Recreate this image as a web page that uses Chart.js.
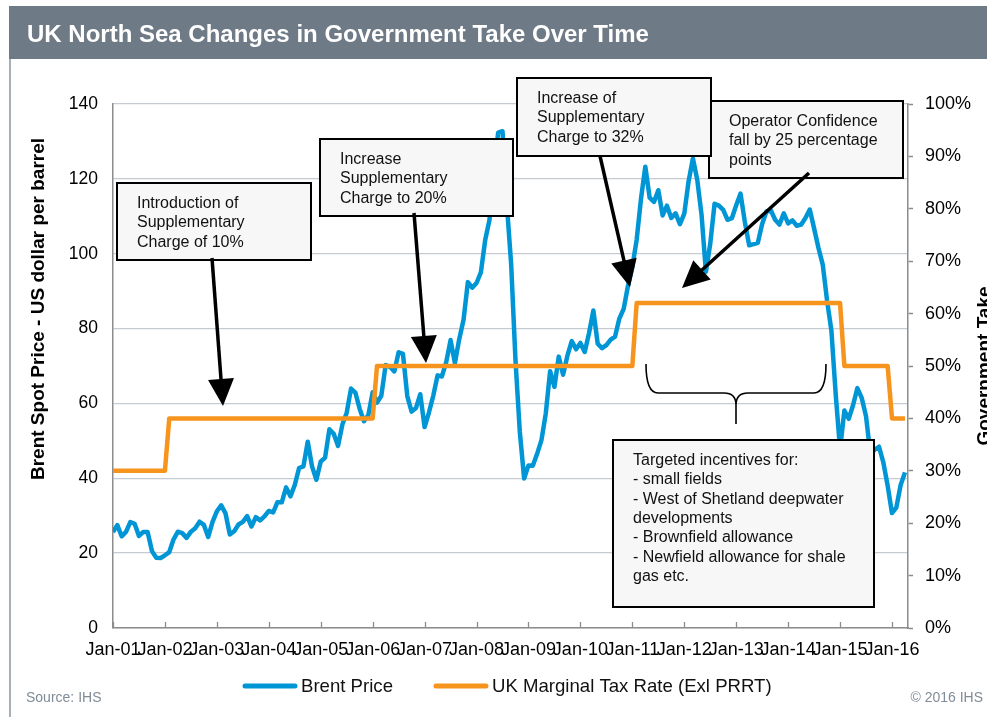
<!DOCTYPE html>
<html>
<head>
<meta charset="utf-8">
<script src="https://cdn.jsdelivr.net/npm/chart.js@4.4.0/dist/chart.umd.min.js"></script>
<style>
  html, body { margin: 0; padding: 0; background: #fff; overflow: hidden; }
  canvas { display: block; }
</style>
</head>
<body>
<canvas id="takeChart" width="987" height="717"></canvas>
<script>
// ==================== 数据 ====================
// Brent monthly average, Jan-01 .. Apr-16 (index = month since Jan-01)
const brentPrice = [
  25.62, 27.50, 24.50, 25.66, 28.31, 27.85, 24.61, 25.68, 25.62, 20.54, 18.80, 18.71,
  19.42, 20.28, 23.70, 25.73, 25.35, 24.08, 25.74, 26.65, 28.40, 27.54, 24.34, 28.33,
  31.18, 32.77, 30.61, 25.00, 25.86, 27.65, 28.35, 29.89, 27.11, 29.61, 28.75, 29.81,
  31.28, 30.86, 33.63, 33.59, 37.57, 35.18, 38.22, 42.74, 43.20, 49.78, 43.11, 39.60,
  44.51, 45.48, 53.10, 51.88, 48.65, 54.35, 57.52, 63.98, 62.91, 58.54, 55.24, 56.86,
  62.99, 60.21, 62.06, 70.26, 69.78, 68.56, 73.67, 73.23, 61.96, 57.81, 58.76, 62.47,
  53.68, 57.56, 62.05, 67.49, 67.21, 71.05, 76.93, 70.76, 77.17, 82.34, 92.41, 90.93,
  92.18, 94.99, 103.64, 109.07, 122.80, 132.32, 132.72, 113.24, 97.23, 71.58, 52.45, 39.95,
  43.44, 43.32, 46.54, 50.18, 57.30, 68.61, 64.44, 72.51, 67.65, 72.77, 76.66, 74.46,
  76.17, 73.75, 78.83, 84.82, 75.95, 74.76, 75.58, 77.04, 77.84, 82.67, 85.28, 91.45,
  96.52, 103.72, 114.64, 123.26, 114.99, 113.83, 116.97, 110.22, 112.83, 109.55, 110.77, 107.87,
  110.69, 119.33, 125.45, 119.75, 110.34, 95.16, 102.62, 113.36, 112.86, 111.71, 109.06, 109.49,
  112.96, 116.05, 108.47, 102.25, 102.56, 102.92, 107.93, 111.28, 111.60, 109.08, 107.79, 110.76,
  108.12, 108.90, 107.48, 107.76, 109.54, 111.80, 106.77, 101.61, 97.09, 87.43, 79.44, 62.34,
  47.76, 58.10, 55.89, 59.52, 64.08, 61.48, 56.56, 46.52, 47.62, 48.43, 44.27, 38.01,
  30.70, 32.18, 38.21, 41.58
];

// UK marginal tax rate (%) at the months where it changes
const taxMonths = [0, 12, 13, 60, 61, 120, 121, 168, 169, 179, 180, 183];
const taxRate   = [30, 30, 40, 40, 50, 50, 62, 62, 50, 50, 40, 40];

// x 轴刻度（每年一月）
const yearTicks  = [0, 12, 24, 36, 48, 60, 72, 84, 96, 108, 120, 132, 144, 156, 168, 180];
const tickLabels = ['Jan-01', 'Jan-02', 'Jan-03', 'Jan-04', 'Jan-05', 'Jan-06', 'Jan-07', 'Jan-08',
                    'Jan-09', 'Jan-10', 'Jan-11', 'Jan-12', 'Jan-13', 'Jan-14', 'Jan-15', 'Jan-16'];

const seriesNames = ['Brent Price', 'UK Marginal Tax Rate (Exl PRRT)'];

const titleText = 'UK North Sea Changes in Government Take Over Time';
const leftTitle = 'Brent Spot Price - US dollar per barrel';
const rightTitle = 'Government Take';

// 注释框（文字 + 画布像素位置）
const notes = [
  { lines: ['Introduction of', 'Supplementary', 'Charge of 10%'], x: 117, y: 183, w: 194, h: 77 },
  { lines: ['Increase', 'Supplementary', 'Charge to 20%'], x: 320, y: 139, w: 193, h: 77 },
  { lines: ['Operator Confidence', 'fall by 25 percentage', 'points'], x: 709, y: 101, w: 194, h: 77 },
  { lines: ['Increase of', 'Supplementary', 'Charge to 32%'], x: 517, y: 78, w: 194, h: 78 },
  { lines: ['Targeted incentives for:', '- small fields', '- West of Shetland deepwater',
            'developments', '- Brownfield allowance', '- Newfield allowance for shale', 'gas etc.'],
    x: 613, y: 440, w: 261, h: 167 }
];
const arrows = [
  { from: [212, 258], to: [223, 406] },
  { from: [414, 213], to: [426, 363] },
  { from: [600, 156], to: [630, 287] },
  { from: [809, 173], to: [682, 288] }
];

const FONT = "'Liberation Sans', Arial, Helvetica, sans-serif";
const BLUE = '#0096d6';
const ORANGE = '#f7941d';
const AXIS_GREY = '#8c8c8c';

Chart.defaults.font.family = FONT;
Chart.defaults.color = '#111';

function drawArrow(ctx, a) {
  const [x0, y0] = a.from, [x1, y1] = a.to;
  const dx = x1 - x0, dy = y1 - y0;
  const len = Math.hypot(dx, dy);
  const ux = dx / len, uy = dy / len;
  const headLen = 27, headHalf = 13;
  const bx = x1 - ux * headLen, by = y1 - uy * headLen;
  ctx.strokeStyle = '#000';
  ctx.lineWidth = 3.5;
  ctx.beginPath();
  ctx.moveTo(x0, y0);
  ctx.lineTo(bx + ux * 2, by + uy * 2);
  ctx.stroke();
  ctx.fillStyle = '#000';
  ctx.beginPath();
  ctx.moveTo(x1, y1);
  ctx.lineTo(bx - uy * headHalf, by + ux * headHalf);
  ctx.lineTo(bx + uy * headHalf, by - ux * headHalf);
  ctx.closePath();
  ctx.fill();
}

function drawBrace(ctx) {
  ctx.strokeStyle = '#000';
  ctx.lineWidth = 1.6;
  ctx.beginPath();
  ctx.moveTo(646, 364);
  ctx.quadraticCurveTo(646, 393, 658, 393);
  ctx.lineTo(724, 393);
  ctx.quadraticCurveTo(736, 393, 736, 405);
  ctx.lineTo(736, 424);
  ctx.moveTo(736, 405);
  ctx.quadraticCurveTo(736, 393, 748, 393);
  ctx.lineTo(814, 393);
  ctx.quadraticCurveTo(826, 393, 826, 364);
  ctx.stroke();
}

const decorPlugin = {
  id: 'decor',
  beforeDraw(chart) {
    const ctx = chart.ctx;
    ctx.save();
    ctx.fillStyle = '#fff';
    ctx.fillRect(0, 0, chart.width, chart.height);
    // 标题栏
    ctx.fillStyle = '#6f7a87';
    ctx.fillRect(9, 6, chart.width - 9, 53);
    ctx.strokeStyle = '#8a95a1';
    ctx.lineWidth = 1.5;
    ctx.beginPath();
    ctx.moveTo(10, 59);
    ctx.lineTo(10, chart.height);
    ctx.stroke();
    ctx.fillStyle = '#fff';
    ctx.font = 'bold 24px ' + FONT;
    ctx.textBaseline = 'alphabetic';
    ctx.fillText(titleText, 27, 42);
    ctx.restore();
  },
  afterDraw(chart) {
    const ctx = chart.ctx;
    const area = chart.chartArea;
    const xs = chart.scales.x;
    ctx.save();

    // x 轴内侧刻度
    ctx.strokeStyle = AXIS_GREY;
    ctx.lineWidth = 1.3;
    yearTicks.forEach(v => {
      const px = Math.round(xs.getPixelForValue(v)) + 0.5;
      ctx.beginPath();
      ctx.moveTo(px, area.bottom);
      ctx.lineTo(px, area.bottom - 6);
      ctx.stroke();
    });

    // 轴标题
    ctx.fillStyle = '#000';
    ctx.font = 'bold 19px ' + FONT;
    ctx.textAlign = 'center';
    ctx.textBaseline = 'alphabetic';
    ctx.save();
    ctx.translate(44, 309);
    ctx.rotate(-Math.PI / 2);
    ctx.fillText(leftTitle, 0, 0);
    ctx.restore();
    ctx.save();
    ctx.translate(990, (area.top + area.bottom) / 2);
    ctx.rotate(-Math.PI / 2);
    ctx.fillText(rightTitle, 0, 0);
    ctx.restore();

    // 注释框
    ctx.textAlign = 'left';
    notes.forEach(n => {
      ctx.fillStyle = '#f7f7f7';
      ctx.fillRect(n.x, n.y, n.w, n.h);
      ctx.strokeStyle = '#000';
      ctx.lineWidth = 2;
      ctx.strokeRect(n.x, n.y, n.w, n.h);
      ctx.fillStyle = '#111';
      ctx.font = '16px ' + FONT;
      n.lines.forEach((t, i) => ctx.fillText(t, n.x + 20, n.y + 25 + i * 19.3));
    });
    arrows.forEach(a => drawArrow(ctx, a));
    drawBrace(ctx);

    // 图例
    ctx.font = '18.6px ' + FONT;
    const lineLen = 54, gap = 4, itemGap = 41;
    const widths = chart.data.datasets.map(d => ctx.measureText(d.label).width);
    let lx = 243;
    const ly = 686;
    chart.data.datasets.forEach((d, i) => {
      ctx.strokeStyle = d.borderColor;
      ctx.lineWidth = 5;
      ctx.lineCap = 'round';
      ctx.beginPath();
      ctx.moveTo(lx + 2, ly);
      ctx.lineTo(lx + lineLen - 2, ly);
      ctx.stroke();
      ctx.fillStyle = '#111';
      ctx.textBaseline = 'middle';
      ctx.fillText(d.label, lx + lineLen + gap, ly + 1);
      lx += lineLen + gap + widths[i] + itemGap;
    });

    // 来源
    ctx.font = '14px ' + FONT;
    ctx.fillStyle = '#808c98';
    ctx.textBaseline = 'alphabetic';
    ctx.textAlign = 'left';
    ctx.fillText('Source: IHS', 26, 702);
    ctx.textAlign = 'right';
    ctx.fillText('\u00a9 2016 IHS', 983, 702);
    ctx.restore();
  }
};

const ctx = document.getElementById('takeChart');
new Chart(ctx, {
  type: 'line',
  data: {
    datasets: [
      {
        label: seriesNames[0],
        data: brentPrice.map((v, i) => ({ x: i, y: v })),
        yAxisID: 'y',
        borderColor: BLUE,
        borderWidth: 4.5,
        pointRadius: 0,
        tension: 0,
        borderJoinStyle: 'round',
        order: 1
      },
      {
        label: seriesNames[1],
        data: taxMonths.map((m, i) => ({ x: m, y: taxRate[i] })),
        yAxisID: 'y1',
        borderColor: ORANGE,
        borderWidth: 4.5,
        pointRadius: 0,
        tension: 0,
        borderJoinStyle: 'round',
        order: 0
      }
    ]
  },
  options: {
    responsive: false,
    animation: false,
    devicePixelRatio: 1,
    layout: { padding: { top: 104, left: 0, right: 0, bottom: 0 } },
    plugins: {
      legend: { display: false },
      tooltip: { enabled: false },
      title: { display: false }
    },
    scales: {
      x: {
        type: 'linear',
        min: 0,
        max: 183.7,
        afterBuildTicks: s => { s.ticks = yearTicks.map(v => ({ value: v })); },
        afterFit: s => { s.height = 89; },
        ticks: {
          autoSkip: false,
          maxRotation: 0,
          minRotation: 0,
          padding: 11,
          color: '#000',
          font: { size: 18 },
          callback: (v, i) => tickLabels[i]
        },
        grid: { display: true, drawOnChartArea: false, drawTicks: false },
        border: { display: true, color: AXIS_GREY, width: 1.5 }
      },
      y: {
        position: 'left',
        min: 0,
        max: 140,
        afterFit: s => { s.width = 113; },
        ticks: { stepSize: 20, padding: 15, color: '#000', font: { size: 17.5 } },
        grid: { color: '#c6cbd1', lineWidth: 1.3, drawTicks: false },
        border: { display: true, color: AXIS_GREY, width: 1.5 }
      },
      y1: {
        position: 'right',
        min: 0,
        max: 100,
        afterFit: s => { s.width = 79; },
        ticks: { stepSize: 10, padding: 12, color: '#000', font: { size: 18 }, callback: v => v + '%' },
        grid: { drawOnChartArea: false, drawTicks: true, tickLength: 5, tickColor: AXIS_GREY, tickWidth: 1.5 },
        border: { display: true, color: AXIS_GREY, width: 1.5 }
      }
    }
  },
  plugins: [decorPlugin]
});
</script>
</body>
</html>
